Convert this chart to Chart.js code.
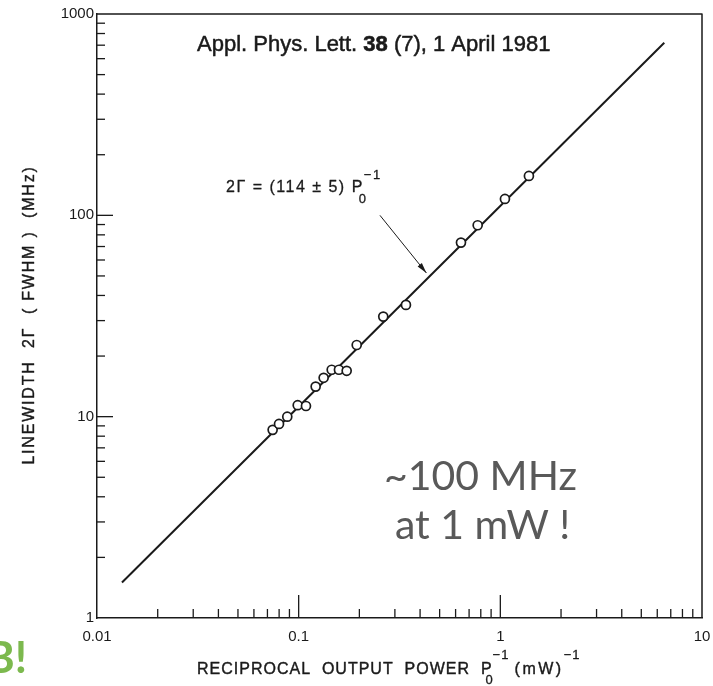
<!DOCTYPE html>
<html>
<head>
<meta charset="utf-8">
<script src="https://cdn.jsdelivr.net/npm/chart.js@4"></script>
<style>
  body { margin: 0; background: #fff; }
  #wrap { width: 713px; height: 686px; position: relative; }
</style>
</head>
<body>
<div id="wrap"><canvas id="myChart"></canvas></div>
<script>
const powerInv = [0.0743, 0.0799, 0.0878, 0.0989, 0.1087, 0.1214, 0.133, 0.1458, 0.1584, 0.173, 0.194, 0.2627, 0.3404, 0.638, 0.772, 1.054, 1.386];
const linewidth = [8.6, 9.2, 10.0, 11.4, 11.3, 14.1, 15.6, 17.1, 17.1, 16.9, 22.7, 31.4, 35.9, 73.2, 89.3, 120.6, 156.9];

// fitted line 2G = 114 / P0
const fitX = [0.0133, 6.5];
const fitY = [1.5, 720];

// tick labels
const xMajor = [0.01, 0.1, 1, 10];
const xLabels = ['0.01', '0.1', '1', '10'];
const yMajor = [1, 10, 100, 1000];
const yLabels = ['1', '10', '100', '1000'];
const minorSteps = [2, 3, 4, 5, 6, 7, 8, 9];

// arrow of the fit label, in data units
const arrowFrom = [0.253, 100];
const arrowTo = [0.43, 51.7];

const ctx = document.getElementById('myChart');
const INK = '#1a1a1a';
const SANS = '"Liberation Sans", Arial, sans-serif';

// text with a thin outline so it looks like the scanned print
function inkText(c, s, x, y, w) {
    c.fillText(s, x, y);
    c.lineWidth = w;
    c.strokeText(s, x, y);
}

const decorations = {
    id: 'decorations',
    afterDraw: (chart) => {
        const { ctx, chartArea: { top, right, bottom, left }, scales: { x, y } } = chart;
        ctx.save();
        ctx.strokeStyle = INK;
        ctx.fillStyle = INK;
        ctx.lineJoin = 'round';

        // top + right frame
        ctx.lineWidth = 1.5;
        ctx.beginPath();
        ctx.moveTo(left, top);
        ctx.lineTo(right, top);
        ctx.lineTo(right, bottom);
        ctx.stroke();

        // inward ticks on y axis
        ctx.lineWidth = 1.3;
        for (let d = 0; d < yMajor.length - 1; d++) {
            minorSteps.forEach(k => {
                const py = y.getPixelForValue(yMajor[d] * k);
                ctx.beginPath(); ctx.moveTo(left, py); ctx.lineTo(left + 8, py); ctx.stroke();
            });
            if (d > 0) {
                const py = y.getPixelForValue(yMajor[d]);
                ctx.beginPath(); ctx.moveTo(left, py); ctx.lineTo(left + 16, py); ctx.stroke();
            }
        }
        // inward ticks on x axis
        for (let d = 0; d < xMajor.length - 1; d++) {
            minorSteps.forEach(k => {
                const px = x.getPixelForValue(xMajor[d] * k);
                ctx.beginPath(); ctx.moveTo(px, bottom); ctx.lineTo(px, bottom - 9); ctx.stroke();
            });
            if (d > 0) {
                const px = x.getPixelForValue(xMajor[d]);
                ctx.beginPath(); ctx.moveTo(px, bottom); ctx.lineTo(px, bottom - 23); ctx.stroke();
            }
        }

        // journal reference
        ctx.textBaseline = 'alphabetic';
        ctx.textAlign = 'left';
        const parts = [
            ['Appl. Phys. Lett. ', 'normal', 0.5],
            ['38', 'bold', 0.6],
            [' (7), 1 April 1981', 'normal', 0.5]
        ];
        let tx = 197;
        parts.forEach(([s, w, sw]) => {
            ctx.font = w + ' 22px ' + SANS;
            inkText(ctx, s, tx, 51, sw);
            tx += ctx.measureText(s).width;
        });

        // fit label
        ctx.font = '16px ' + SANS;
        ctx.letterSpacing = '1.5px';
        const ex = 226;
        const ey = y.getPixelForValue(arrowFrom[1]) - 23;
        const eq = '2\u0393 = (114 \u00B1 5) P';
        inkText(ctx, eq, ex, ey, 0.3);
        const ew = ctx.measureText(eq).width;
        ctx.font = '13px ' + SANS;
        inkText(ctx, '\u22121', ex + ew, ey - 13, 0.3);
        inkText(ctx, '0', ex + ew - 5, ey + 11, 0.3);
        ctx.letterSpacing = '0px';

        // arrow
        const ax0 = x.getPixelForValue(arrowFrom[0]), ay0 = y.getPixelForValue(arrowFrom[1]);
        const ax1 = x.getPixelForValue(arrowTo[0]), ay1 = y.getPixelForValue(arrowTo[1]);
        ctx.lineWidth = 1;
        ctx.beginPath(); ctx.moveTo(ax0, ay0); ctx.lineTo(ax1, ay1); ctx.stroke();
        const ang = Math.atan2(ay1 - ay0, ax1 - ax0);
        ctx.beginPath();
        ctx.moveTo(ax1, ay1);
        ctx.lineTo(ax1 - 11 * Math.cos(ang - 0.25), ay1 - 11 * Math.sin(ang - 0.25));
        ctx.lineTo(ax1 - 11 * Math.cos(ang + 0.25), ay1 - 11 * Math.sin(ang + 0.25));
        ctx.closePath();
        ctx.fill();

        // axis titles
        ctx.font = '16px ' + SANS;
        ctx.letterSpacing = '1.8px';
        ctx.save();
        ctx.translate(34, 315);
        ctx.rotate(-Math.PI / 2);
        ctx.textAlign = 'center';
        inkText(ctx, 'LINEWIDTH  2\u0393  ( FWHM )  (MHz)', 0, 0, 0.4);
        ctx.restore();

        ctx.textAlign = 'left';
        ctx.font = '16px ' + SANS;
        ctx.letterSpacing = '1px';
        const xt = 'RECIPROCAL  OUTPUT  POWER  P';
        let xx = 197;
        inkText(ctx, xt, xx, 674, 0.4);
        xx += ctx.measureText(xt).width;
        ctx.font = '13px ' + SANS;
        inkText(ctx, '\u22121', xx, 659, 0.3);
        inkText(ctx, '0', xx - 7, 684, 0.3);
        xx += 22;
        ctx.font = '16px ' + SANS;
        ctx.letterSpacing = '2.5px';
        inkText(ctx, '(mW)', xx, 674, 0.4);
        xx += ctx.measureText('(mW)').width;
        ctx.font = '13px ' + SANS;
        ctx.letterSpacing = '1px';
        inkText(ctx, '\u22121', xx, 659, 0.3);
        ctx.letterSpacing = '0px';

        // slide overlay text
        ctx.fillStyle = '#595959';
        ctx.font = '41px Lato, "Open Sans", sans-serif';
        ctx.fillText('~100 MHz', 384, 490);
        ctx.fillText('at 1 mW !', 395, 539);

        ctx.fillStyle = '#7cb94e';
        ctx.font = 'bold 44px Lato, "Open Sans", sans-serif';
        ctx.textAlign = 'right';
        ctx.fillText('B!', 27, 673);

        ctx.restore();
    }
};

const tickFont = { family: SANS, size: 15 };

new Chart(ctx, {
    type: 'scatter',
    data: {
        datasets: [
            {
                label: 'data',
                data: powerInv.map((v, i) => ({ x: v, y: linewidth[i] })),
                pointRadius: 4.5,
                pointBackgroundColor: '#fff',
                pointBorderColor: INK,
                pointBorderWidth: 1.7,
                showLine: false,
                order: 0
            },
            {
                label: 'fit',
                data: fitX.map((v, i) => ({ x: v, y: fitY[i] })),
                showLine: true,
                borderColor: INK,
                borderWidth: 2,
                pointRadius: 0,
                order: 1
            }
        ]
    },
    options: {
        responsive: true,
        maintainAspectRatio: false,
        animation: false,
        layout: { padding: { top: 14, right: 0, left: 0, bottom: 0 } },
        plugins: {
            legend: { display: false },
            tooltip: { enabled: false }
        },
        scales: {
            x: {
                type: 'logarithmic',
                min: 0.01,
                max: 10,
                grid: { display: false, drawTicks: false },
                border: { display: true, color: INK, width: 1.5 },
                afterBuildTicks: (s) => { s.ticks = xMajor.map(v => ({ value: v })); },
                afterFit: (s) => { s.height = 68; s.paddingRight = 11; },
                ticks: {
                    color: INK,
                    font: tickFont,
                    padding: 10,
                    maxRotation: 0,
                    autoSkip: false,
                    callback: (v) => xLabels[xMajor.indexOf(v)] ?? ''
                }
            },
            y: {
                type: 'logarithmic',
                min: 1,
                max: 1000,
                grid: { display: false, drawTicks: false },
                border: { display: true, color: INK, width: 1.5 },
                afterBuildTicks: (s) => { s.ticks = yMajor.map(v => ({ value: v })); },
                afterFit: (s) => { s.width = 97; s.paddingTop = 0; },
                ticks: {
                    color: INK,
                    font: tickFont,
                    padding: 3,
                    autoSkip: false,
                    callback: (v) => yLabels[yMajor.indexOf(v)] ?? ''
                }
            }
        }
    },
    plugins: [decorations]
});
</script>
</body>
</html>
